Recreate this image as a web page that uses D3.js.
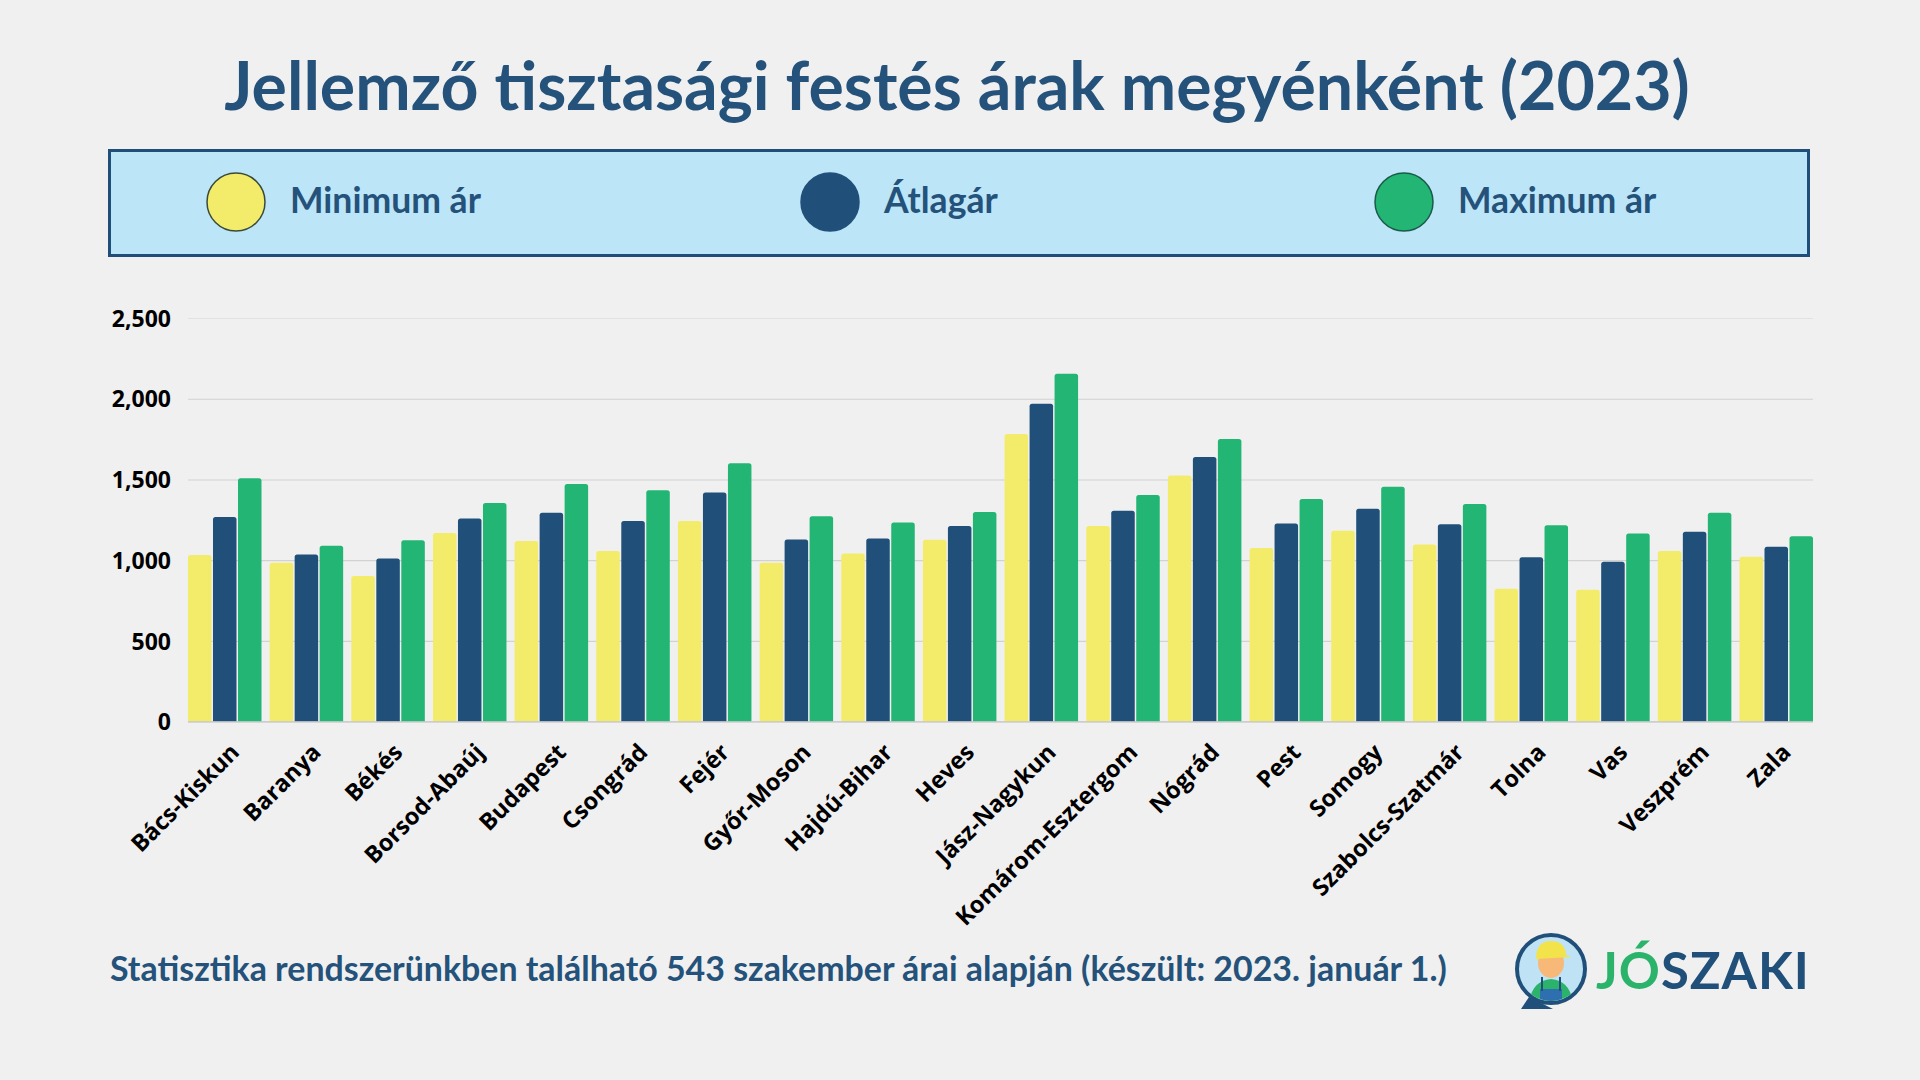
<!DOCTYPE html>
<html>
<head>
<meta charset="utf-8">
<script src="https://cdn.jsdelivr.net/npm/d3@7"></script>
<style>
  html, body { margin: 0; padding: 0; background: #f0f0f0; }
  svg { display: block; }
</style>
</head>
<body>
<svg id="chart" width="1920" height="1080"></svg>
<script>
const categories = ["Bács-Kiskun","Baranya","Békés","Borsod-Abaúj","Budapest","Csongrád","Fejér","Győr-Moson","Hajdú-Bihar","Heves","Jász-Nagykun","Komárom-Esztergom","Nógrád","Pest","Somogy","Szabolcs-Szatmár","Tolna","Vas","Veszprém","Zala"];
const minValues = [1032, 985, 902, 1168, 1119, 1057, 1243, 985, 1042, 1127, 1781, 1212, 1525, 1075, 1182, 1098, 824, 817, 1057, 1022];
const avgValues = [1268, 1036, 1011, 1259, 1294, 1243, 1420, 1129, 1135, 1212, 1969, 1307, 1639, 1228, 1319, 1222, 1018, 991, 1177, 1084];
const maxValues = [1507, 1090, 1123, 1354, 1472, 1433, 1600, 1272, 1234, 1298, 2155, 1404, 1750, 1379, 1455, 1348, 1216, 1166, 1294, 1148];
const seriesNames = ["Minimum ár", "Átlagár", "Maximum ár"];
const yTicks = [0, 500, 1000, 1500, 2000, 2500];
const titleText = "Jellemző tisztasági festés árak megyénként (2023)";
const footerText = "Statisztika rendszerünkben található 543 szakember árai alapján (készült: 2023. január 1.)";

const colors = ["#f3ec6a", "#20507a", "#22b573"];
const strokeColors = ["#3a4a3a", "#20507a", "#1a5a4a"];
const navy = "#24527a";

const svg = d3.select("#chart");

function fitText(sel, width) {
  const len = sel.node().getComputedTextLength();
  const fs = parseFloat(sel.attr("font-size"));
  const nfs = fs * width / len;
  sel.attr("font-size", nfs);
  return nfs;
}

// Title
const title = svg.append("text")
  .attr("x", 957).attr("y", 110)
  .attr("text-anchor", "middle")
  .attr("font-family", "Lato, 'Open Sans', sans-serif")
  .attr("font-weight", 700)
  .attr("font-size", 60)
  .attr("fill", navy)
  .text(titleText);
fitText(title, 1466);

// Legend box
svg.append("rect")
  .attr("x", 109.5).attr("y", 150.5).attr("width", 1699).attr("height", 105)
  .attr("fill", "#bde5f8").attr("stroke", "#1f4e79").attr("stroke-width", 3);

const legendX = [236, 830, 1404];
let legendFs = 31;
seriesNames.forEach((name, i) => {
  svg.append("circle")
    .attr("cx", legendX[i]).attr("cy", 202).attr("r", 29)
    .attr("fill", colors[i]).attr("stroke", strokeColors[i]).attr("stroke-width", 1.5);
  const t = svg.append("text")
    .attr("x", legendX[i] + 54).attr("y", 213)
    .attr("font-family", "Lato, 'Open Sans', sans-serif")
    .attr("font-weight", 700)
    .attr("font-size", legendFs)
    .attr("fill", navy)
    .text(name);
  if (i === 0) legendFs = fitText(t, 191);
});

// Chart
const x0 = d3.scaleBand().domain(categories).range([188, 1813]).paddingInner(0.1).paddingOuter(0);
const x1 = d3.scaleBand().domain([0, 1, 2]).range([0, x0.bandwidth()]).paddingInner(0.06);
const y = d3.scaleLinear().domain([0, 2500]).range([721.7, 318]);

// gridlines
const grid = svg.append("g")
  .attr("transform", "translate(188,0)")
  .call(d3.axisLeft(y).tickValues(yTicks).tickSize(-1625).tickFormat(""));
grid.select(".domain").remove();
grid.selectAll(".tick line").attr("stroke", "#d2d2d2").attr("stroke-width", 1.2)
  .attr("stroke-opacity", d => d === 2500 ? 0.5 : 1);

// y labels
const yAxis = svg.append("g")
  .attr("transform", "translate(171,0)")
  .call(d3.axisLeft(y).tickValues(yTicks).tickSize(0).tickFormat(d3.format(",")));
yAxis.select(".domain").remove();
yAxis.selectAll("text")
  .attr("font-family", "'Open Sans', sans-serif")
  .attr("font-weight", 700)
  .attr("font-size", 23)
  .attr("fill", "#000")
  .attr("dy", "0.35em")
  .attr("x", 0);

const data = categories.map((c, i) => ({ cat: c, vals: [minValues[i], avgValues[i], maxValues[i]] }));

const groups = svg.append("g").selectAll("g").data(data).join("g")
  .attr("transform", d => `translate(${x0(d.cat)},0)`);

groups.selectAll("path").data(d => d.vals.map((v, k) => ({ v, k }))).join("path")
  .attr("fill", d => colors[d.k])
  .attr("d", d => {
    const bx = x1(d.k), bw = x1.bandwidth(), top = y(d.v), bot = y(0), r = 2.5;
    return `M${bx},${bot}V${top + r}Q${bx},${top} ${bx + r},${top}H${bx + bw - r}Q${bx + bw},${top} ${bx + bw},${top + r}V${bot}Z`;
  });

// baseline
svg.append("line")
  .attr("x1", 188).attr("x2", 1813).attr("y1", y(0)).attr("y2", y(0))
  .attr("stroke", "#c8c8c8").attr("stroke-width", 1);

// x labels
const xAxis = svg.append("g")
  .attr("transform", `translate(0,${y(0)})`)
  .call(d3.axisBottom(x0).tickSize(0));
xAxis.select(".domain").remove();
xAxis.selectAll("text")
  .attr("font-family", "'Open Sans', sans-serif")
  .attr("font-weight", 700)
  .attr("font-size", 23.5)
  .attr("fill", "#000")
  .attr("text-anchor", "end")
  .attr("dy", null)
  .attr("y", 0)
  .attr("transform", "translate(16,32) rotate(-45)");

// Footer
const footer = svg.append("text")
  .attr("x", 110).attr("y", 981)
  .attr("font-family", "Lato, 'Open Sans', sans-serif")
  .attr("font-weight", 700)
  .attr("font-size", 28)
  .attr("fill", navy)
  .text(footerText);
fitText(footer, 1337);

// Logo
const logo = svg.append("g").attr("transform", "translate(1551,969)");
logo.append("path").attr("d", "M-22,28 L-30,40 L2,40 Z").attr("fill", "#20507a");
logo.append("circle").attr("r", 34).attr("fill", "#bfe3f5").attr("stroke", "#20507a").attr("stroke-width", 4);
const clip = svg.append("defs").append("clipPath").attr("id", "lc");
clip.append("circle").attr("r", 32);
const inner = logo.append("g").attr("clip-path", "url(#lc)");
inner.append("path").attr("d", "M-22,40 Q-22,12 0,10 Q22,12 22,40 Z").attr("fill", "#2cb36b");
inner.append("rect").attr("x", -11).attr("y", 20).attr("width", 22).attr("height", 22).attr("fill", "#2e6fb0");
inner.append("line").attr("x1", -9).attr("y1", 8).attr("x2", -9).attr("y2", 22).attr("stroke", "#20507a").attr("stroke-width", 2);
inner.append("line").attr("x1", 9).attr("y1", 8).attr("x2", 9).attr("y2", 22).attr("stroke", "#20507a").attr("stroke-width", 2);
inner.append("ellipse").attr("cx", 0).attr("cy", -6).attr("rx", 13).attr("ry", 15).attr("fill", "#f8b878");
inner.append("path").attr("d", "M-15,-12 Q-14,-28 0,-28 Q14,-28 15,-14 L20,-12 L-15,-10 Z").attr("fill", "#f3e34a");

const logoText = svg.append("text")
  .attr("x", 1596).attr("y", 989)
  .attr("font-family", "Lato, 'Open Sans', sans-serif")
  .attr("font-weight", 700)
  .attr("font-size", 50)
  .attr("letter-spacing", 1)
  .call(t => {
    t.append("tspan").attr("fill", "#2cb36b").text("JÓ");
    t.append("tspan").attr("fill", "#20507a").text("SZAKI");
  });
fitText(logoText, 214);
</script>
</body>
</html>
